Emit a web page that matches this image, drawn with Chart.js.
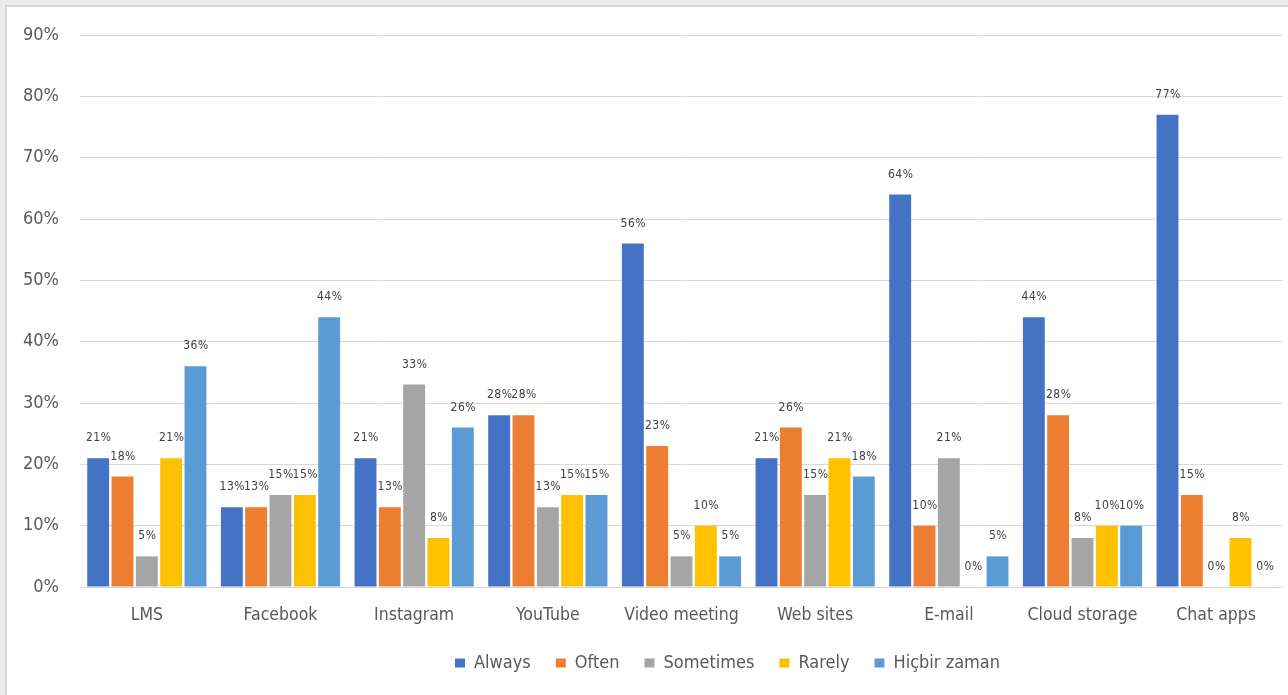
<!DOCTYPE html>
<html>
<head>
<meta charset="utf-8">
<script src="https://cdn.jsdelivr.net/npm/chart.js@4.4.1/dist/chart.umd.min.js"></script>
<style>
  html, body { margin: 0; padding: 0; background: #ececec; width: 1288px; height: 695px; overflow: hidden; }
  #frame { position: absolute; left: 5px; top: 5px; width: 1300px; height: 700px; background: #ffffff; border-left: 2px solid #d6d6d6; border-top: 2px solid #d6d6d6; }
  #wrap { position: absolute; left: 0; top: 0; width: 1288px; height: 695px; }
</style>
</head>
<body>
<div id="frame"></div>
<div id="wrap"><canvas id="c" width="1288" height="695"></canvas></div>
<script>
const categories = ["LMS", "Facebook", "Instagram", "YouTube", "Video meeting", "Web sites", "E-mail", "Cloud storage", "Chat apps"];
const seriesNames = ["Always", "Often", "Sometimes", "Rarely", "Hiçbir zaman"];
const always    = [21, 13, 21, 28, 56, 21, 64, 44, 77];
const often     = [18, 13, 13, 28, 23, 26, 10, 28, 15];
const sometimes = [5, 15, 33, 13, 5, 15, 21, 8, 0];
const rarely    = [21, 15, 8, 15, 10, 21, 0, 10, 8];
const never     = [36, 44, 26, 15, 5, 18, 5, 10, 0];
const yTicks = [0, 10, 20, 30, 40, 50, 60, 70, 80, 90];
const colors = ["#4472C4", "#ED7D31", "#A5A5A5", "#FFC000", "#5B9BD5"];

const FONT = "'DejaVu Sans Condensed', 'DejaVu Sans', sans-serif";
const seriesData = [always, often, sometimes, rarely, never];

const labelPlugin = {
  id: 'barLabels',
  afterDatasetsDraw(chart) {
    const ctx = chart.ctx;
    ctx.save();
    ctx.font = "12px " + FONT;
    ctx.letterSpacing = "0.5px";
    ctx.fillStyle = "#404040";
    ctx.textAlign = "center";
    ctx.textBaseline = "middle";
    chart.data.datasets.forEach((ds, i) => {
      const meta = chart.getDatasetMeta(i);
      meta.data.forEach((bar, j) => {
        ctx.fillText(ds.data[j] + "%", bar.x + 0.5, bar.y - 20);
      });
    });
    ctx.restore();
  }
};

const legendShift = {
  id: 'legendShift',
  afterUpdate(chart) {
    const lg = chart.legend;
    if (!lg || !lg.legendHitBoxes || !lg.legendHitBoxes.length) return;
    const dx = 455 - lg.legendHitBoxes[0].left;
    const dy = -13;
    lg.left += dx; lg.right += dx;
    lg.top += dy; lg.bottom += dy;
    lg.legendHitBoxes.forEach(h => { h.left += dx; h.top += dy; });
  }
};

new Chart(document.getElementById('c'), {
  type: 'bar',
  data: {
    labels: categories,
    datasets: seriesNames.map((n, i) => ({
      label: n,
      data: seriesData[i],
      backgroundColor: colors[i],
      borderWidth: 0,
      categoryPercentage: 0.91,
      barPercentage: 0.9
    }))
  },
  options: {
    responsive: false,
    animation: false,
    layout: { padding: { top: 35, right: 5, left: 0, bottom: 0 } },
    scales: {
      x: {
        grid: { display: false, drawTicks: false },
        border: { display: true, color: "#d9d9d9" },
        ticks: { color: "#595959", font: { size: 17.5, family: FONT }, padding: 18 },
        afterFit(s) { s.height = 55; }
      },
      y: {
        min: 0, max: 90,
        afterBuildTicks(s) { s.ticks = yTicks.map(v => ({ value: v })); },
        grid: { color: "#d9d9d9", drawTicks: false },
        border: { display: false },
        ticks: { color: "#595959", font: { size: 18, family: FONT }, padding: 21, callback: v => v + "%" },
        afterFit(s) { s.width = 80; }
      }
    },
    plugins: {
      legend: {
        position: 'bottom',
        labels: { boxWidth: 10, boxHeight: 9, color: "#595959", font: { size: 18, family: FONT }, padding: 25 }
      },
      tooltip: { enabled: false }
    }
  },
  plugins: [labelPlugin, legendShift]
});
</script>
</body>
</html>
